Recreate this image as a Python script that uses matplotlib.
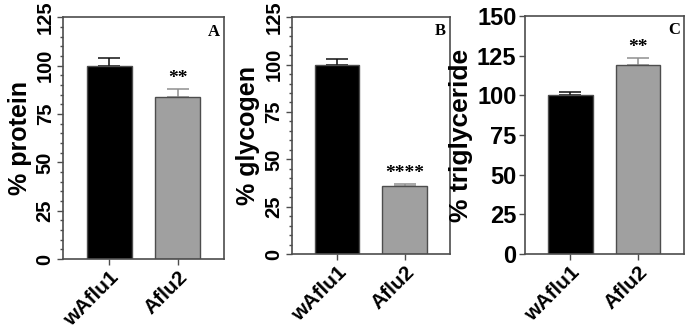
import matplotlib.pyplot as plt
from matplotlib.ticker import MultipleLocator

# data
groups = ['wAflu1', 'Aflu2']
protein = [100, 84]
protein_err = [4, 4]
glycogen = [100, 36]
glycogen_err = [3, 1]
triglyceride = [100, 119]
triglyceride_err = [2, 4.5]
stars = ['**', '****', '**']
panel_letters = ['A', 'B', 'C']
ylabels = ['% protein', '% glycogen', '% triglyceride']

bar_colors = ['#000000', '#a0a0a0']
spine_col = '#4d4d4d'

plt.rcParams['font.family'] = ['Liberation Sans', 'DejaVu Sans']
plt.rcParams['font.weight'] = 'bold'

fig = plt.figure(figsize=(6.85, 3.3), dpi=100)
axA = fig.add_axes([0.092, 0.215, 0.235, 0.732])
axB = fig.add_axes([0.426, 0.230, 0.231, 0.718])
axC = fig.add_axes([0.766, 0.230, 0.232, 0.721])


def panel(ax, vals, errs, star, letter, ylabel, ymax, rot_labels, minor, ylab_size):
    x = range(len(groups))
    ax.bar(x, vals, width=0.66, color=bar_colors, edgecolor=spine_col, linewidth=1, zorder=2)
    for i in x:
        ax.errorbar(i, vals[i], yerr=[[0], [errs[i]]], fmt='none',
                    ecolor='#111111' if i == 0 else '#909090',
                    elinewidth=1.1, capsize=8, capthick=1.1, zorder=1)
    top = vals[1] + errs[1]
    ax.text(1, top + ymax * 0.01, star, ha='center', va='bottom',
            family='Liberation Serif', fontsize=14, fontweight='bold')
    ax.text(0.975, 0.975, letter, transform=ax.transAxes, ha='right', va='top',
            family='Liberation Serif', fontsize=12, fontweight='bold')
    ax.set_xlim(-0.675, 1.675)
    ax.set_ylim(0, ymax)
    ax.yaxis.set_major_locator(MultipleLocator(25))
    if minor:
        ax.yaxis.set_minor_locator(MultipleLocator(5))
        ax.tick_params(axis='y', which='minor', length=2.5, width=1, color=spine_col)
    ax.set_xticks(list(x))
    ax.set_xticklabels(groups, rotation=45, ha='right', rotation_mode='anchor',
                       fontsize=15, fontweight='bold')
    ax.set_ylabel(ylabel, fontsize=ylab_size, fontweight='bold', labelpad=3)
    ax.tick_params(axis='both', which='major', length=4, width=1, color=spine_col, pad=2)
    if rot_labels:
        for t in ax.get_yticklabels():
            t.set_rotation(90)
            t.set_va('center')
            t.set_fontsize(14.5)
            t.set_fontweight('bold')
    else:
        for t in ax.get_yticklabels():
            t.set_fontsize(17)
            t.set_fontweight('bold')
    for s in ax.spines.values():
        s.set_color(spine_col)
        s.set_linewidth(1.2)


panel(axA, protein, protein_err, stars[0], panel_letters[0], ylabels[0], 125, True, True, 18)
panel(axB, glycogen, glycogen_err, stars[1], panel_letters[1], ylabels[1], 125, True, True, 18)
panel(axC, triglyceride, triglyceride_err, stars[2], panel_letters[2], ylabels[2], 150, False, False, 19)

plt.savefig('out.png', dpi=100)
